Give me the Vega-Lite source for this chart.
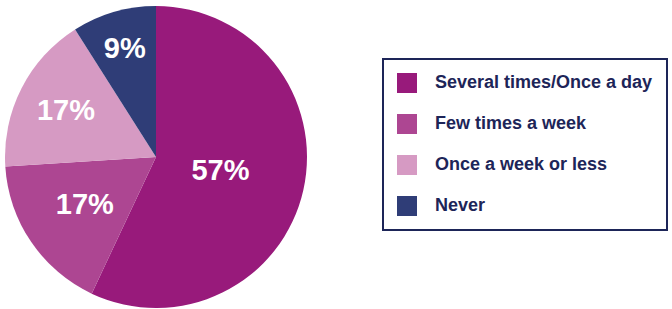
{
  "$schema": "https://vega.github.io/schema/vega-lite/v6.json",
  "width": 312,
  "height": 314,
  "autosize": {"type": "none"},
  "padding": {"left": 0, "top": 0, "right": 360, "bottom": 0},
  "background": "white",
  "config": {"legend": {"strokeWidth": 2}},
  "data": {"values": [
    {"cat": "Several times/Once a day", "pct": 0.57, "rank": 1},
    {"cat": "Few times a week", "pct": 0.17, "rank": 2},
    {"cat": "Once a week or less", "pct": 0.17, "rank": 3},
    {"cat": "Never", "pct": 0.09, "rank": 4}
  ]},
  "encoding": {
    "theta": {"field": "pct", "type": "quantitative", "stack": true},
    "order": {"field": "rank", "type": "quantitative"}
  },
  "layer": [
    {
      "mark": {"type": "arc", "outerRadius": 151},
      "encoding": {
        "color": {
          "field": "cat",
          "type": "nominal",
          "scale": {
            "domain": ["Several times/Once a day", "Few times a week", "Once a week or less", "Never"],
            "range": ["#981a7b", "#ad4692", "#d69ac3", "#2f3d77"]
          },
          "legend": {
            "orient": "none",
            "legendX": 383,
            "legendY": 59,
            "title": null,
            "symbolType": "square",
            "symbolSize": 400,
            "symbolStrokeWidth": 0,
            "symbolOpacity": 1,
            "labelFont": "Liberation Sans",
            "labelFontWeight": "bold",
            "labelFontSize": 18,
            "labelColor": "#1d2558",
            "labelOffset": 18,
            "labelLimit": 400,
            "rowPadding": 21,
            "padding": 14,
            "strokeColor": "#1d2558"
          }
        }
      }
    },
    {
      "mark": {
        "type": "text",
        "font": "Liberation Sans",
        "fontWeight": "bold",
        "fontSize": 29,
        "fill": "white",
        "baseline": "middle",
        "align": "center",
        "radius": {"expr": "datum.rank == 1 ? 66 : datum.rank == 2 ? 86 : datum.rank == 3 ? 101 : 112"}
      },
      "encoding": {
        "detail": {"field": "cat", "type": "nominal"},
        "text": {"field": "pct", "type": "quantitative", "format": ".0%"}
      }
    }
  ]
}
